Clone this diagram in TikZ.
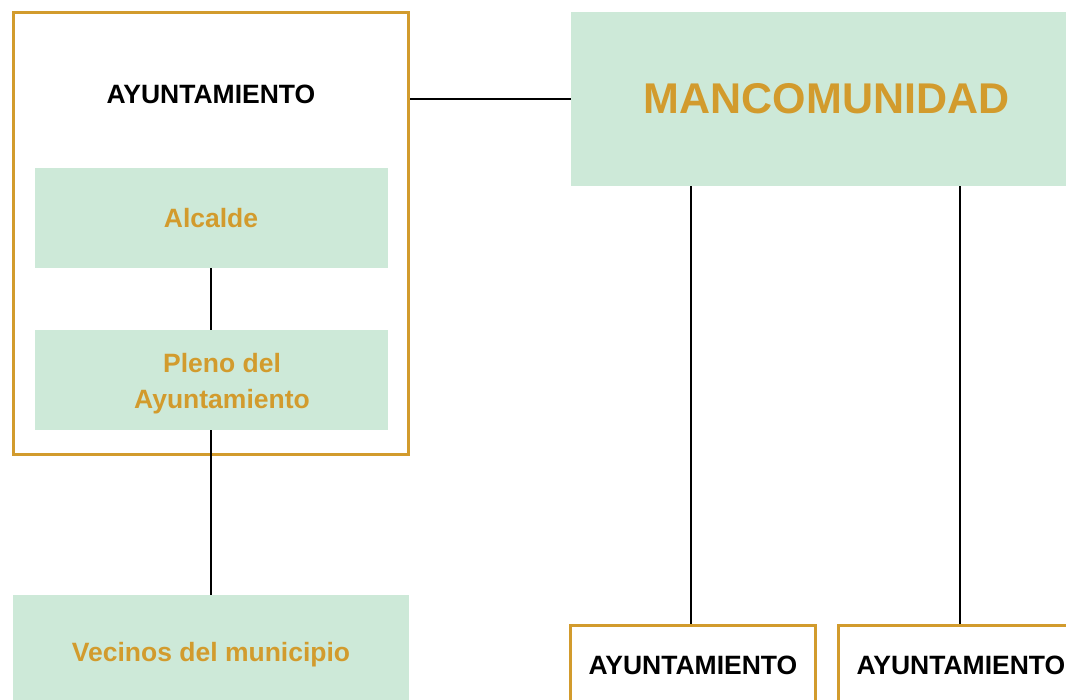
\documentclass[tikz,border=0pt]{standalone}
\usepackage{fontspec}
\setmainfont{Liberation Sans}
\definecolor{gold}{RGB}{210,155,45}
\definecolor{mint}{RGB}{205,233,216}
\tikzset{
  x=1pt, y=-1pt,
  greenbox/.style={rectangle, fill=mint, draw=none, inner sep=0pt, text=gold, font=\fontsize{26.5}{36}\selectfont\bfseries, align=center},
  goldbox/.style={rectangle, fill=white, draw=gold, line width=2.5pt, inner sep=0pt, text=black, font=\fontsize{26.5}{36}\selectfont\bfseries, align=center},
  link/.style={draw=black, line width=2.8pt}
}
\begin{document}
\begin{tikzpicture}
\useasboundingbox (0,0) rectangle (1066,700);
\clip (0,0) rectangle (1066,700);
% big ayuntamiento container
\node[goldbox, minimum width=395pt, minimum height=442pt] (big) at (211,233.5) {};
\node[font=\fontsize{26.5}{36}\selectfont\bfseries] (bigl) at (211,94) {AYUNTAMIENTO};
\node[greenbox, minimum width=353pt, minimum height=100pt] (alc) at (211,218) {Alcalde};
\node[greenbox, minimum width=353pt, minimum height=100pt] (pleno) at (211,380) {};
\node[greenbox] (plenol) at (222,384) {Pleno del\\Ayuntamiento};
\node[greenbox, minimum width=396pt, minimum height=116pt] (vec) at (211,653) {};
\node[greenbox] (vecl) at (211,655) {Vecinos del municipio};
\node[greenbox, minimum width=511pt, minimum height=174pt, font=\fontsize{43}{50}\selectfont\bfseries] (mc) at (826.5,99) {MANCOMUNIDAD};
\node[goldbox, minimum width=245pt, minimum height=80pt] (a1) at (693,665.5) {AYUNTAMIENTO};
\node[goldbox, minimum width=245pt, minimum height=80pt] (a2) at (961,665.5) {AYUNTAMIENTO};
% connectors
\draw[link] (alc.south) -- (pleno.north);
\draw[link] (pleno.south) -- (vec.north);
\draw[link] (mc.west) -- (mc.west -| big.east);
\draw[link] ([xshift=-2pt]a1.north |- mc.south) -- ([xshift=-2pt]a1.north);
\draw[link] ([xshift=-1pt]a2.north |- mc.south) -- ([xshift=-1pt]a2.north);
\end{tikzpicture}
\end{document}
